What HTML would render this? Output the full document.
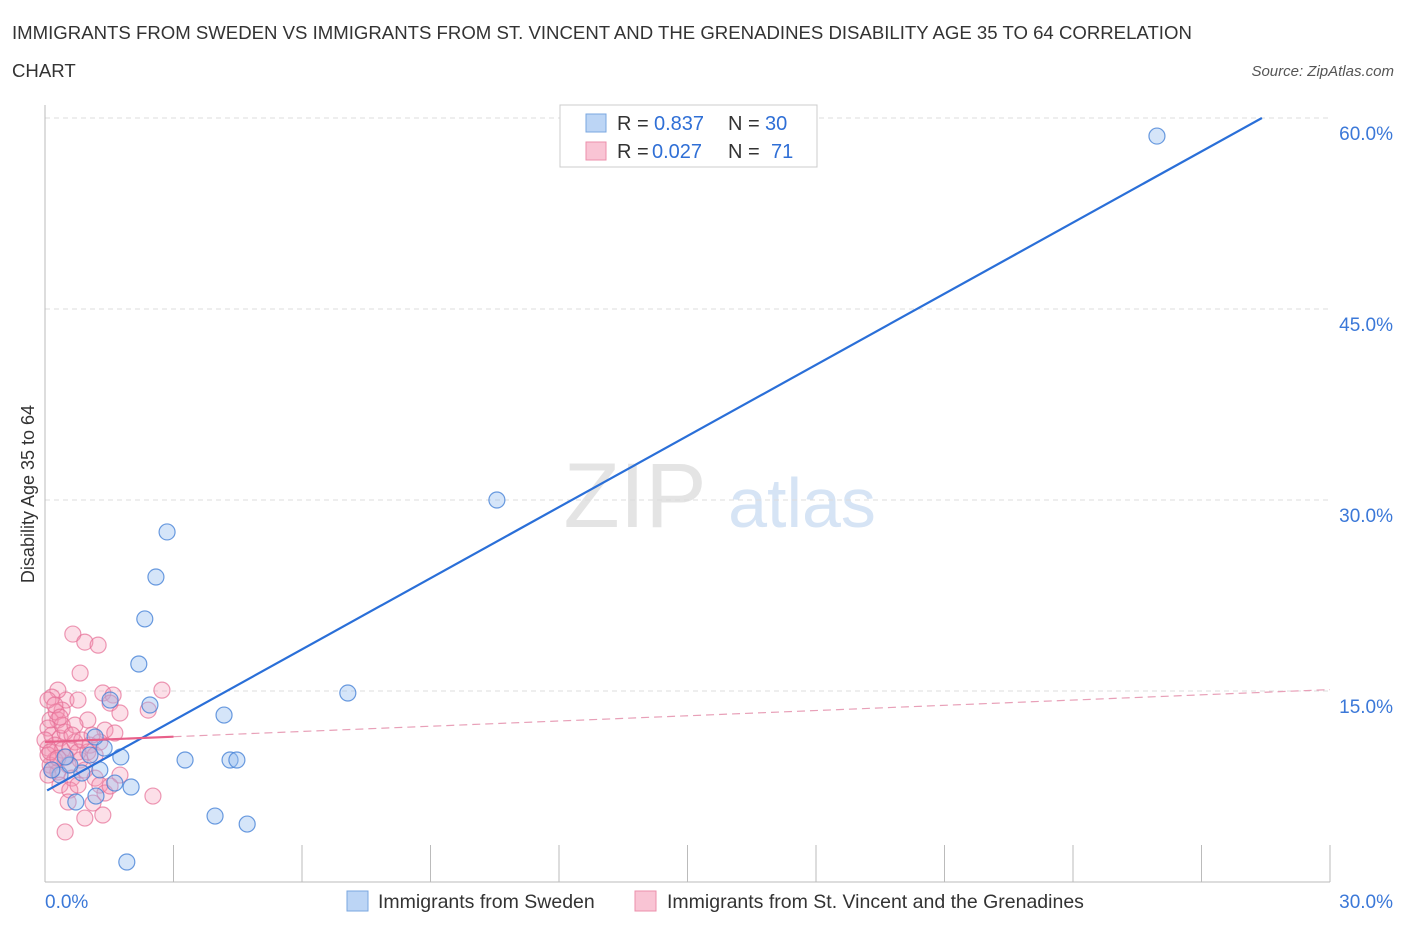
<!DOCTYPE html>
<html><head><meta charset="utf-8"><style>
body{margin:0;background:#fff;font-family:"Liberation Sans",sans-serif}
svg text{font-family:"Liberation Sans",sans-serif}
</style></head><body>
<svg id="chart" width="1406" height="930">
<text x="12" y="39" font-size="18.6" fill="#333">IMMIGRANTS FROM SWEDEN VS IMMIGRANTS FROM ST. VINCENT AND THE GRENADINES DISABILITY AGE 35 TO 64 CORRELATION</text>
<text x="12" y="77" font-size="18.6" fill="#333">CHART</text>
<text x="1394" y="76" font-size="15" fill="#555" font-style="italic" text-anchor="end">Source: ZipAtlas.com</text>
<g><text x="635" y="527" font-size="92" fill="#e4e4e4" font-family="Liberation Serif" text-anchor="middle">ZIP</text><text x="802" y="527" font-size="70" fill="#d6e4f5" text-anchor="middle">atlas</text></g>
<g id="grid"></g><g id="axes"></g><g id="pts"></g><g id="lines"></g>
<text transform="translate(34,494) rotate(-90)" font-size="18" fill="#333" text-anchor="middle">Disability Age 35 to 64</text>
<g>
<rect x="560" y="105" width="257" height="62" fill="#fff" stroke="#ccc"/>
<rect x="586" y="114" width="20" height="18" fill="#bcd5f5" stroke="#7aa7e0"/>
<rect x="586" y="142" width="20" height="18" fill="#f9c4d4" stroke="#ec8fab"/>
<text x="617" y="130" font-size="20" fill="#333">R =</text>
<text x="654" y="130" font-size="20" fill="#2f6fd6">0.837</text>
<text x="728" y="130" font-size="20" fill="#333">N =</text>
<text x="765" y="130" font-size="20" fill="#2f6fd6">30</text>
<text x="617" y="158" font-size="20" fill="#333">R =</text>
<text x="652" y="158" font-size="20" fill="#2f6fd6">0.027</text>
<text x="728" y="158" font-size="20" fill="#333">N =</text>
<text x="771" y="158" font-size="20" fill="#2f6fd6">71</text>
</g>
<g>
<rect x="347" y="891" width="21" height="20" fill="#bcd5f5" stroke="#7aa7e0"/>
<text x="378" y="908" font-size="19.5" fill="#333">Immigrants from Sweden</text>
<rect x="635" y="891" width="21" height="20" fill="#f9c4d4" stroke="#ec8fab"/>
<text x="667" y="908" font-size="19.5" fill="#333">Immigrants from St. Vincent and the Grenadines</text>
</g>
</svg>
<script>
const blueX=[25.96,10.55,2.85,2.59,2.33,2.19,7.07,2.45,4.18,3.27,4.32,4.48,1.77,2.01,1.63,1.38,1.17,1.05,0.72,1.19,0.86,0.35,3.97,4.72,1.91,1.52,0.16,0.58,0.47,1.28];
const blueY=[58.58,30.0,27.49,23.95,20.66,17.12,14.84,13.90,13.11,9.58,9.58,9.58,9.82,7.46,7.77,10.52,11.39,9.97,6.28,6.75,8.56,8.40,5.18,4.55,1.57,14.29,8.80,9.19,9.82,8.80];
const pinkX=[0.65,0.93,1.24,0.82,0.49,0.30,0.16,0.40,0.77,1.35,1.59,1.52,2.73,2.41,1.75,1.00,1.40,1.63,0.30,0.12,0.07,0.16,0.35,0.23,0.07,0.40,0.58,0.70,0.47,1.05,1.28,0.82,0.54,0.23,0.12,0.30,0.63,0.93,0.35,0.58,1.17,1.75,1.28,1.40,1.52,2.52,0.54,1.12,0.93,1.35,0.47,0.16,0.07,0.26,0.40,0.70,0.00,0.12,0.49,0.77,1.00,0.07,0.23,0.35,0.63,0.86,1.10,0.30,0.07,0.77,1.17];
const pinkY=[19.47,18.84,18.60,16.41,14.29,15.07,14.52,13.50,14.29,14.84,14.68,14.05,15.07,13.50,13.27,12.72,11.93,11.70,12.72,12.72,12.09,11.54,11.30,10.75,10.52,10.36,10.52,10.99,11.78,10.75,10.99,9.58,9.18,9.58,9.18,8.64,8.16,8.79,7.61,7.22,8.16,8.40,7.61,6.99,7.54,6.75,6.28,6.20,5.02,5.26,3.93,8.79,9.97,13.35,12.32,12.32,11.15,10.21,9.81,10.21,10.21,14.29,13.90,12.95,11.54,11.15,11.54,9.73,8.40,7.61,9.97];
const yTicks=[15,30,45,60];
const xTickCount=10;
const blueFit=[7.1,1.862];
const pinkFit=[11.0,0.137];
const X=v=>45+v/30*1285, Y=v=>882-v/15*191;
const NS="http://www.w3.org/2000/svg";
function mk(p,t,a){const e=document.createElementNS(NS,t);for(const k in a)e.setAttribute(k,a[k]);p.appendChild(e);return e;}
const grid=document.getElementById('grid'),axes=document.getElementById('axes'),pts=document.getElementById('pts'),lines=document.getElementById('lines');
yTicks.forEach(t=>{
 const l=mk(grid,'line',{x1:45,x2:1330,y1:Y(t),y2:Y(t),stroke:'#ddd','stroke-dasharray':'5,4'});
 
 
 const tx=mk(axes,'text',{x:1393,y:Y(t)+22,'font-size':19,fill:'#3b78d8','text-anchor':'end'});
 tx.textContent=t.toFixed(1)+'%';
 
 
});
const topLine=mk(grid,'line',{x1:45,x2:1330,y1:118,y2:118,stroke:'#ddd','stroke-dasharray':'5,4'});


const ya=mk(axes,'line',{x1:45,x2:45,y1:105,y2:882,stroke:'#bbb'});


const xa=mk(axes,'line',{x1:45,x2:1330,y1:882,y2:882,stroke:'#bbb'});


for(let i=0;i<=xTickCount;i++){
 const x=X(i*30/xTickCount);
 const tk=mk(axes,'line',{x1:x,x2:x,y1:845,y2:882,stroke:'#bbb'});
 
 
}
const xl0=mk(axes,'text',{x:45,y:908,'font-size':19,fill:'#3b78d8'});xl0.textContent='0.0%';


const xl1=mk(axes,'text',{x:1393,y:908,'font-size':19,fill:'#3b78d8','text-anchor':'end'});xl1.textContent='30.0%';


pinkX.forEach((v,i)=>{
 const c=mk(pts,'circle',{cx:X(v),cy:Y(pinkY[i]),r:8,fill:'rgba(244,150,180,0.3)',stroke:'rgba(230,110,150,0.7)','stroke-width':1.2});
 
 
});
blueX.forEach((v,i)=>{
 const c=mk(pts,'circle',{cx:X(v),cy:Y(blueY[i]),r:8,fill:'rgba(150,190,240,0.4)',stroke:'rgba(70,130,215,0.8)','stroke-width':1.2});
 
 
});
const bx2=(60-blueFit[0])/blueFit[1];
const bl=mk(lines,'line',{x1:X(0.05),y1:Y(blueFit[0]+blueFit[1]*0.05),x2:X(bx2),y2:Y(60),stroke:'#2a6fd8','stroke-width':2.2});


const pl=mk(lines,'line',{x1:X(0),y1:Y(pinkFit[0]),x2:X(3),y2:Y(pinkFit[0]+pinkFit[1]*3),stroke:'#e8608a','stroke-width':2.2});


const pd=mk(lines,'line',{x1:X(3),y1:Y(pinkFit[0]+pinkFit[1]*3),x2:X(30),y2:Y(pinkFit[0]+pinkFit[1]*30),stroke:'#e8a0b8','stroke-width':1.2,'stroke-dasharray':'8,5'});


</script>
</body></html>
